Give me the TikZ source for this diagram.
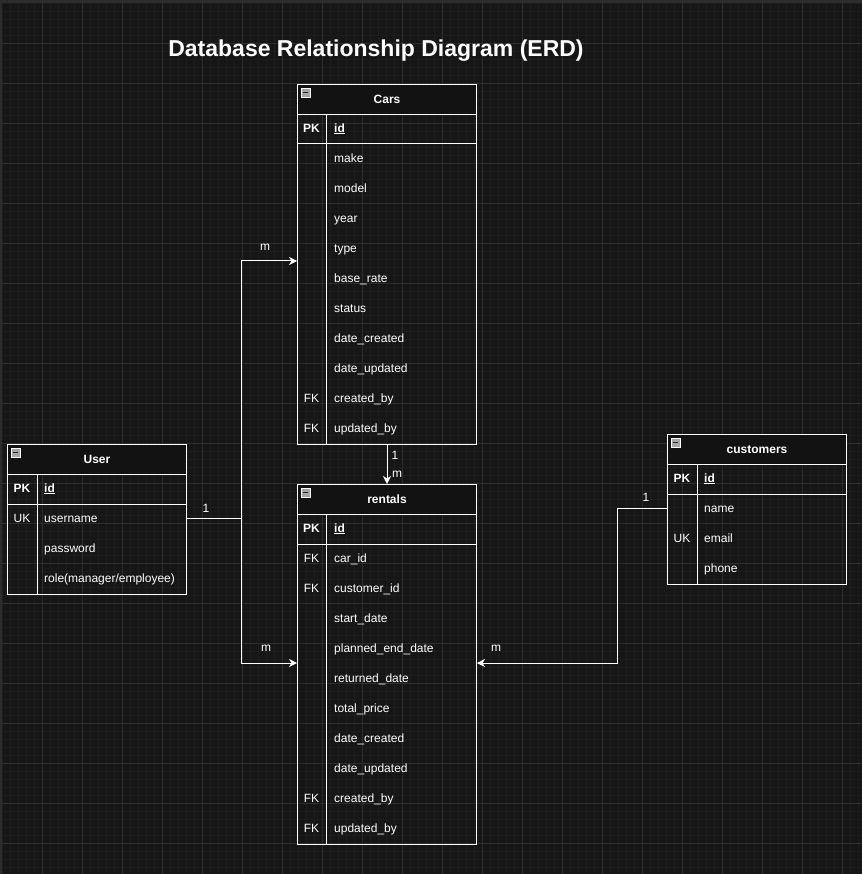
\documentclass[tikz,border=0pt]{standalone}
\usepackage{fontspec}
\setmainfont{Liberation Sans}
\usetikzlibrary{arrows.meta,positioning,calc}
\definecolor{pagebg}{RGB}{22,22,22}
\definecolor{pageedge}{RGB}{44,44,44}
\definecolor{minorgrid}{RGB}{29,29,29}
\definecolor{majorgrid}{RGB}{46,46,46}
\definecolor{hdrfill}{RGB}{18,18,18}
\tikzset{
  tblbox/.style={draw=white,line width=1pt,inner sep=0pt,anchor=north west},
  hdrbox/.style={draw=white,line width=1pt,fill=hdrfill,inner sep=0pt,anchor=north west,
    minimum height=30pt,text=white,font=\fontsize{12}{14}\selectfont\bfseries},
  iconbox/.style={draw=white!60,fill=gray!70,minimum size=9pt,inner sep=0pt,anchor=north west,
    path picture={\draw[black!85,line width=1.3pt] ([xshift=1.8pt]path picture bounding box.west)
      -- ([xshift=-1.8pt]path picture bounding box.east);}},
  tblline/.style={draw=white,line width=1pt},
  fieldtxt/.style={anchor=west,inner sep=0pt,text=white,text height=8.6pt,text depth=2.4pt,
    font=\fontsize{12}{14}\selectfont},
  keytxt/.style={inner sep=0pt,text=white,text height=8.6pt,text depth=2.4pt,
    font=\fontsize{12}{14}\selectfont},
  lbl/.style={inner sep=0pt,text=white,font=\fontsize{12}{14}\selectfont},
  rel/.style={draw=white,line width=1pt,-{Stealth[length=8pt,width=8pt,inset=2.5pt]}},
  relplain/.style={draw=white,line width=1pt}
}
\begin{document}
\begin{tikzpicture}[x=1pt,y=-1pt]
\useasboundingbox (0,0) rectangle (862,874);
% canvas and grid
\fill[pageedge] (0,0) rectangle (862,874);
\fill[pagebg] (2,3) rectangle (862,874);
\foreach \i in {0,...,107}{
  \draw[minorgrid,line width=0.7pt] ({2+8*\i},3) -- ({2+8*\i},874);
}
\foreach \i in {0,...,108}{
  \draw[minorgrid,line width=0.7pt] (2,{3+8*\i}) -- (862,{3+8*\i});
}
\foreach \i in {1,...,21}{
  \draw[majorgrid,line width=0.8pt] ({2+40*\i},3) -- ({2+40*\i},874);
  \draw[majorgrid,line width=0.8pt] (2,{3+40*\i}) -- (862,{3+40*\i});
}
% title
\node[text=white,font=\fontsize{23}{27}\selectfont\bfseries] (title) at (376,50.5) {Database Relationship Diagram (ERD)};

% Cars table
\node[tblbox,minimum width=179pt,minimum height=360pt] (cars) at (297,84) {};
\node[hdrbox,minimum width=179pt] (cars-hdr) at (297,84) {Cars};
\node[iconbox] (cars-icon) at (301,88) {};
\draw[tblline] (cars.west |- 0,144) -- (cars.east |- 0,144);
\draw[tblline] (326,114) -- (326,444);
\node[keytxt,font=\fontsize{12}{14}\selectfont\bfseries] (cars-pk) at (311.5,129) {PK};
\node[fieldtxt] (cars-id) at (334,129) {\underline{\textbf{id}}};
\foreach \f [count=\i] in {make,model,year,type,base\_rate,status,date\_created,date\_updated,created\_by,updated\_by}{
  \node[fieldtxt] (cars-f\i) at (334,{129+30*\i}) {\f};
}
\node[keytxt] (cars-k9) at (311.5,399) {FK};
\node[keytxt] (cars-k10) at (311.5,429) {FK};

% User table
\node[tblbox,minimum width=179pt,minimum height=150pt] (usr) at (7,444) {};
\node[hdrbox,minimum width=179pt] (usr-hdr) at (7,444) {User};
\node[iconbox] (usr-icon) at (11,448) {};
\draw[tblline] (usr.west |- 0,504) -- (usr.east |- 0,504);
\draw[tblline] (37,474) -- (37,594);
\node[keytxt,font=\fontsize{12}{14}\selectfont\bfseries] (usr-pk) at (22,489) {PK};
\node[fieldtxt] (usr-id) at (44,489) {\underline{\textbf{id}}};
\foreach \f [count=\i] in {username,password,role(manager/employee)}{
  \node[fieldtxt] (usr-f\i) at (44,{489+30*\i}) {\f};
}
\node[keytxt] (usr-k1) at (22,519) {UK};

% rentals table
\node[tblbox,minimum width=179pt,minimum height=360pt] (rent) at (297,484) {};
\node[hdrbox,minimum width=179pt] (rent-hdr) at (297,484) {rentals};
\node[iconbox] (rent-icon) at (301,488) {};
\draw[tblline] (rent.west |- 0,544) -- (rent.east |- 0,544);
\draw[tblline] (326,514) -- (326,844);
\node[keytxt,font=\fontsize{12}{14}\selectfont\bfseries] (rent-pk) at (311.5,529) {PK};
\node[fieldtxt] (rent-id) at (334,529) {\underline{\textbf{id}}};
\foreach \f [count=\i] in {car\_id,customer\_id,start\_date,planned\_end\_date,returned\_date,total\_price,date\_created,date\_updated,created\_by,updated\_by}{
  \node[fieldtxt] (rent-f\i) at (334,{529+30*\i}) {\f};
}
\foreach \i in {1,2,9,10}{
  \node[keytxt] (rent-k\i) at (311.5,{529+30*\i}) {FK};
}

% customers table
\node[tblbox,minimum width=179pt,minimum height=150pt] (cust) at (667,434) {};
\node[hdrbox,minimum width=179pt] (cust-hdr) at (667,434) {customers};
\node[iconbox] (cust-icon) at (671,438) {};
\draw[tblline] (cust.west |- 0,494) -- (cust.east |- 0,494);
\draw[tblline] (697,464) -- (697,584);
\node[keytxt,font=\fontsize{12}{14}\selectfont\bfseries] (cust-pk) at (682,479) {PK};
\node[fieldtxt] (cust-id) at (704,479) {\underline{\textbf{id}}};
\foreach \f [count=\i] in {name,email,phone}{
  \node[fieldtxt] (cust-f\i) at (704,{479+30*\i}) {\f};
}
\node[keytxt] (cust-k2) at (682,539) {UK};

% relations
\coordinate (ujoin) at (241,518);
\coordinate (cjoin) at (617,508);
\draw[relplain] (usr.east |- ujoin) -- (ujoin);
\draw[rel] (ujoin) |- (cars.west |- 0,261);
\draw[rel] (ujoin) |- (rent.west |- 0,663);
\draw[rel] (cars.south) -- (rent.north);
\draw[rel] (cust.west |- cjoin) -- (cjoin) |- (rent.east |- 0,663);
\node[lbl] (l-u1) at (206,508) {1};
\node[lbl] (l-cm) at (265,247) {m};
\node[lbl] (l-rm) at (266,648) {m};
\node[lbl] (l-c1) at (395,455) {1};
\node[lbl] (l-r1) at (397,474) {m};
\node[lbl] (l-k1) at (646,497) {1};
\node[lbl] (l-km) at (496,648) {m};
\end{tikzpicture}
\end{document}
